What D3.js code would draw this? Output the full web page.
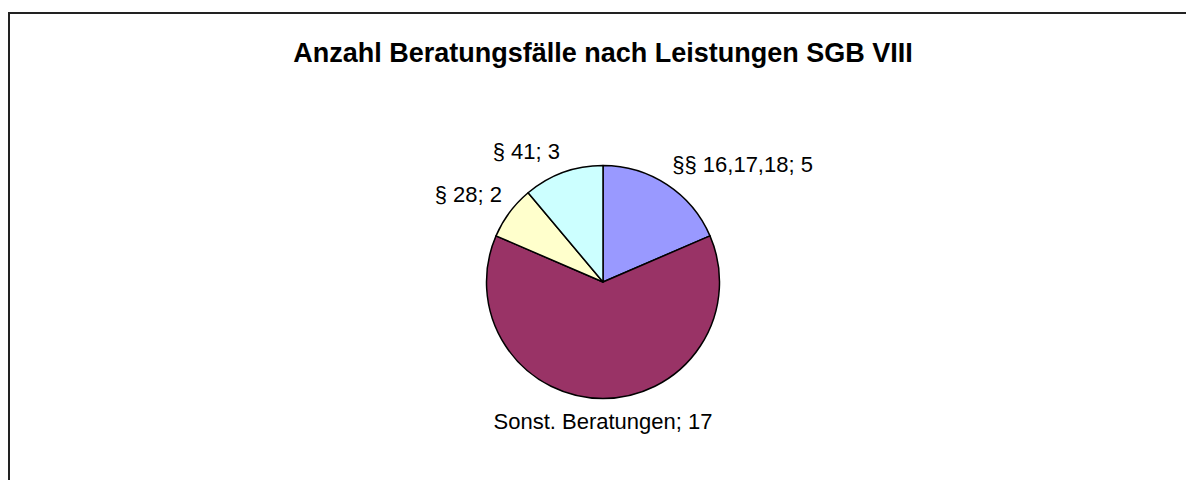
<!DOCTYPE html>
<html>
<head>
<meta charset="utf-8">
<script src="https://cdn.jsdelivr.net/npm/d3@7"></script>
<style>
  html, body { margin: 0; padding: 0; background: #fff; }
  svg { display: block; }
</style>
</head>
<body>
<svg id="chart" width="1186" height="480"></svg>
<script>
const title = "Anzahl Beratungsfälle nach Leistungen SGB VIII";
const categories = ["§§ 16,17,18", "Sonst. Beratungen", "§ 28", "§ 41"];
const values = [5, 17, 2, 3];
const colors = ["#9999FF", "#993366", "#FFFFCC", "#CCFFFF"];

const svg = d3.select("#chart");
const W = 1186, H = 480;
const font = "'Liberation Sans', Arial, Helvetica, sans-serif";

// chart frame (extends past right/bottom edges)
svg.append("path")
  .attr("d", `M9,${H + 5} L9,13 L${W + 5},13`)
  .attr("fill", "none")
  .attr("stroke", "#222")
  .attr("stroke-width", 2);

svg.append("text")
  .attr("x", 603).attr("y", 62)
  .attr("text-anchor", "middle")
  .attr("font-family", font)
  .attr("font-weight", "bold")
  .attr("font-size", 27)
  .attr("fill", "#000")
  .text(title);

const cx = 603, cy = 282, R = 116.5;
const data = categories.map((c, i) => ({ name: c, value: values[i], color: colors[i] }));
const pie = d3.pie().value(d => d.value).sort(null);
const arcs = pie(data);
const arc = d3.arc().innerRadius(0).outerRadius(R);

const g = svg.append("g").attr("transform", `translate(${cx},${cy})`);
g.selectAll("path.slice")
  .data(arcs)
  .join("path")
  .attr("class", "slice")
  .attr("d", arc)
  .attr("fill", d => d.data.color)
  .attr("stroke", "#000")
  .attr("stroke-width", 1.5)
  .attr("stroke-linejoin", "round");

const labelR = 126;
g.selectAll("text.lbl")
  .data(arcs)
  .join("text")
  .attr("class", "lbl")
  .attr("font-family", font)
  .attr("font-size", 22)
  .attr("fill", "#000")
  .each(function(d) {
    const a = (d.startAngle + d.endAngle) / 2;
    const s = Math.sin(a), c = Math.cos(a);
    const px = labelR * s, py = -labelR * c;
    const anchor = Math.abs(s) < 0.1 ? "middle" : (s > 0 ? "start" : "end");
    const y = py < 0 ? py - 5 : py + 21;
    d3.select(this)
      .attr("x", px).attr("y", y)
      .attr("text-anchor", anchor)
      .text(`${d.data.name}; ${d.data.value}`);
  });
</script>
</body>
</html>
